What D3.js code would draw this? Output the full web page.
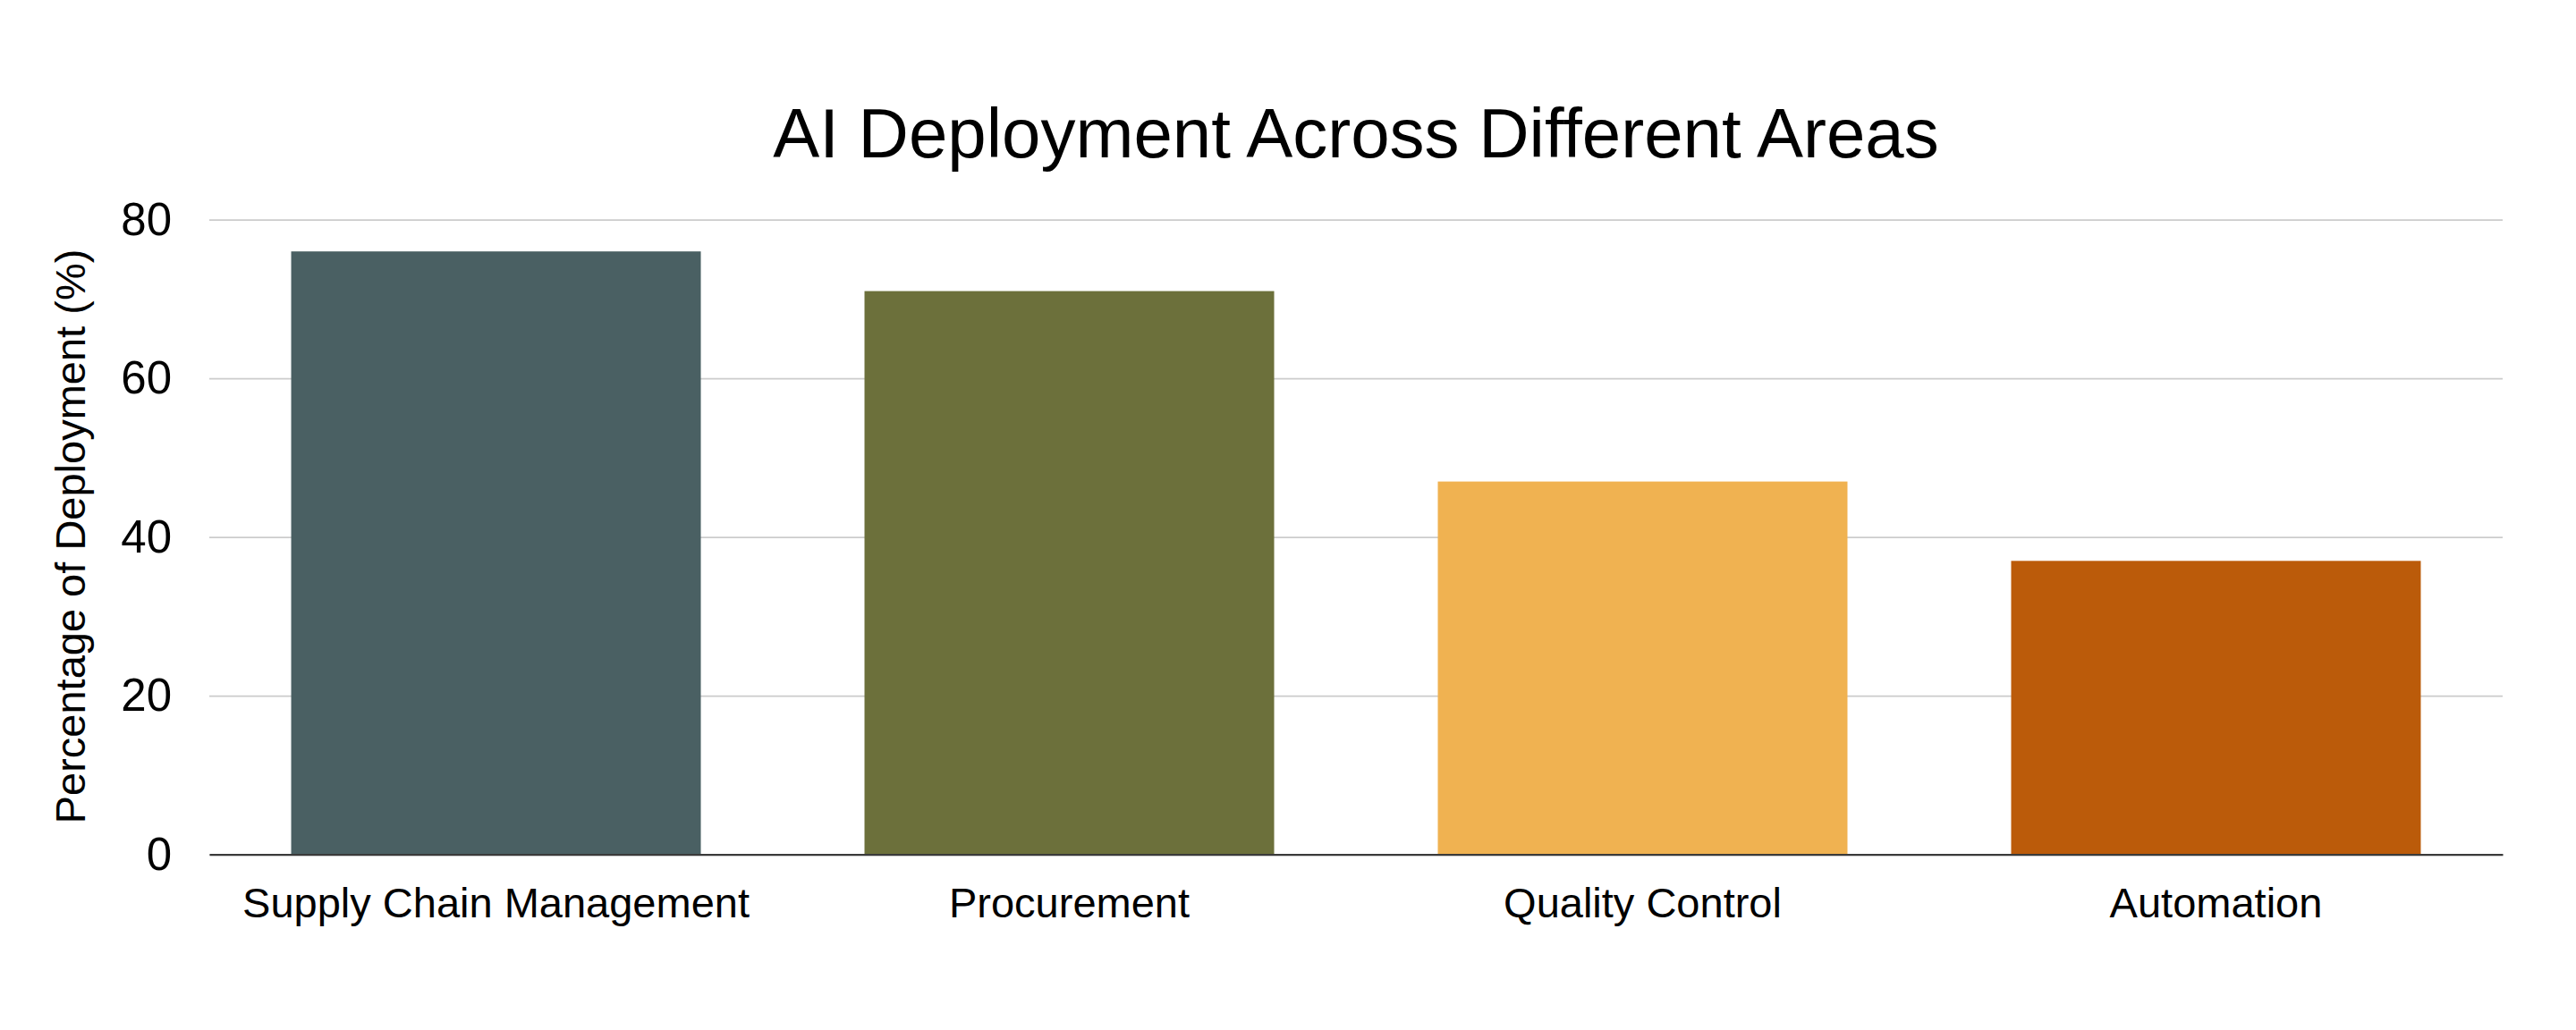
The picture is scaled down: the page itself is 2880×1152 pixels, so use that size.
<!DOCTYPE html>
<html>
<head>
<meta charset="utf-8">
<script src="https://cdn.jsdelivr.net/npm/d3@7"></script>
<style>
  html, body { margin: 0; padding: 0; background: #ffffff; }
  svg { display: block; }
  text { font-family: "Liberation Sans", Arial, Helvetica, sans-serif; fill: #000; }
</style>
</head>
<body>
<svg id="chart" width="2880" height="1152"></svg>
<script>
const categories = ["Supply Chain Management", "Procurement", "Quality Control", "Automation"];
const values = [76, 71, 47, 37];
const colors = ["#4a6063", "#6c703b", "#f0b251", "#bb5b0a"];
const yTicks = [0, 20, 40, 60, 80];
const title = "AI Deployment Across Different Areas";
const yLabel = "Percentage of Deployment (%)";

const W = 2880, H = 1152;
const margin = { left: 234, right: 82, top: 245.7, bottom: 196.3 };
const plotW = W - margin.left - margin.right;
const plotH = H - margin.top - margin.bottom;

const svg = d3.select("#chart");
svg.append("rect").attr("width", W).attr("height", H).attr("fill", "#ffffff");

const g = svg.append("g").attr("transform", `translate(${margin.left},${margin.top})`);

const x = d3.scaleBand().domain(categories).range([0, plotW]).paddingInner(0.2855).paddingOuter(0.1428);
const y = d3.scaleLinear().domain([0, 80]).range([plotH, 0]);

// gridlines
const yAxis = d3.axisLeft(y).tickValues(yTicks).tickSize(-plotW).tickPadding(42).tickFormat(d3.format("d"));
const ya = g.append("g").call(yAxis);
ya.select(".domain").remove();
ya.selectAll(".tick line").attr("stroke", "#cccccc").attr("stroke-width", 1.8);
ya.selectAll(".tick text").attr("font-size", 51).attr("fill", "#000").attr("font-family", "'Liberation Sans', Arial, Helvetica, sans-serif");

// bars
g.selectAll("rect.bar").data(categories).enter().append("rect")
  .attr("class", "bar")
  .attr("x", d => x(d))
  .attr("width", x.bandwidth())
  .attr("y", (d, i) => y(values[i]))
  .attr("height", (d, i) => plotH - y(values[i]))
  .attr("fill", (d, i) => colors[i]);

// x axis
const xAxis = d3.axisBottom(x).tickSize(0).tickPadding(37);
const xa = g.append("g").attr("transform", `translate(0,${plotH})`).call(xAxis);
xa.select(".domain").attr("stroke", "#3a3a3a").attr("stroke-width", 2.2);
xa.selectAll(".tick text").attr("font-size", 47).attr("fill", "#000").attr("font-family", "'Liberation Sans', Arial, Helvetica, sans-serif");

// title
svg.append("text")
  .attr("x", margin.left + plotW / 2)
  .attr("y", 175.7)
  .attr("text-anchor", "middle")
  .attr("font-size", 78)
  .text(title);

// y label
svg.append("text")
  .attr("transform", `translate(95,600) rotate(-90)`)
  .attr("text-anchor", "middle")
  .attr("font-size", 47)
  .text(yLabel);
</script>
</body>
</html>
